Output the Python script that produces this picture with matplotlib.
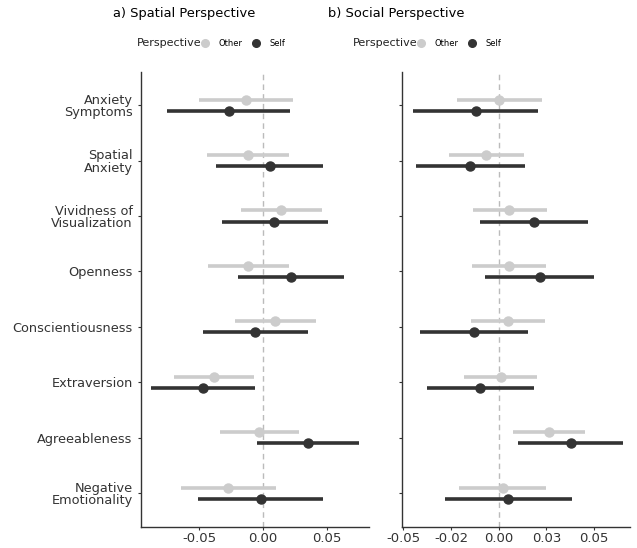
import numpy as np
import matplotlib.pyplot as plt
from matplotlib.lines import Line2D

traits = ["Anxiety\nSymptoms", "Spatial\nAnxiety", "Vividness of\nVisualization", "Openness",
          "Conscientiousness", "Extraversion", "Agreeableness", "Negative\nEmotionality"]

# spatial perspective: estimate, lower, upper
sp_other = [-0.0133, -0.012, 0.0144, -0.0118, 0.0094, -0.0382, -0.0029, -0.0272]
sp_other_lo = [-0.050, -0.044, -0.0173, -0.0434, -0.0222, -0.0696, -0.0338, -0.0646]
sp_other_hi = [0.0238, 0.0204, 0.0466, 0.0201, 0.0414, -0.0068, 0.028, 0.0104]
sp_self = [-0.0269, 0.0055, 0.0089, 0.0222, -0.006, -0.0471, 0.0356, -0.0018]
sp_self_lo = [-0.0751, -0.0366, -0.0322, -0.0194, -0.0473, -0.0879, -0.0049, -0.0508]
sp_self_hi = [0.0212, 0.0473, 0.0508, 0.0638, 0.0356, -0.006, 0.0756, 0.0473]

# social perspective
so_other = [0.0004, -0.0068, 0.0056, 0.0056, 0.0047, 0.0013, 0.0264, 0.0021]
so_other_lo = [-0.0218, -0.0262, -0.0136, -0.0138, -0.0147, -0.018, 0.0076, -0.0208]
so_other_hi = [0.0229, 0.0131, 0.0252, 0.025, 0.0241, 0.0203, 0.0451, 0.0249]
so_self = [-0.0121, -0.0148, 0.0184, 0.0215, -0.0127, -0.0098, 0.0378, 0.0051]
so_self_lo = [-0.0449, -0.0435, -0.01, -0.007, -0.0411, -0.0375, 0.0103, -0.0283]
so_self_hi = [0.0207, 0.014, 0.0467, 0.0497, 0.0154, 0.0184, 0.0652, 0.0385]

sp_ticks = [-0.05, 0.0, 0.05]
sp_ticklabels = ["-0.05", "0.00", "0.05"]
so_ticks = [-0.05, -0.025, 0.0, 0.025, 0.05]
so_ticklabels = ["-0.05", "-0.02", "0.00", "0.03", "0.05"]

c_other = "#cccccc"
c_self = "#333333"
dodge = 0.1

fig = plt.figure(figsize=(6.37, 5.48), dpi=100)
ax1 = fig.add_axes([0.2214, 0.039, 0.358, 0.830])
ax2 = fig.add_axes([0.6316, 0.039, 0.358, 0.830])

n = len(traits)
ypos = np.arange(n)[::-1]  # first trait at top


def draw(ax, oth, oth_lo, oth_hi, slf, slf_lo, slf_hi):
    ax.axvline(0, color="#bbbbbb", lw=1, ls=(0, (4, 3)), zorder=1)
    ax.hlines(ypos + dodge, oth_lo, oth_hi, color=c_other, lw=2.6, zorder=2)
    ax.plot(oth, ypos + dodge, "o", color=c_other, ms=6.5, zorder=3)
    ax.hlines(ypos - dodge, slf_lo, slf_hi, color=c_self, lw=2.6, zorder=2)
    ax.plot(slf, ypos - dodge, "o", color=c_self, ms=6.5, zorder=3)
    ax.set_ylim(-0.6, n - 1 + 0.6)
    ax.set_yticks(ypos)
    for s in ["top", "right"]:
        ax.spines[s].set_visible(False)
    for s in ["left", "bottom"]:
        ax.spines[s].set_color("#333333")
        ax.spines[s].set_linewidth(1.0)
    ax.tick_params(axis="both", length=2.5, color="#333333", labelsize=9.5, labelcolor="#333333")
    ax.tick_params(axis="x", pad=1.5)


draw(ax1, sp_other, sp_other_lo, sp_other_hi, sp_self, sp_self_lo, sp_self_hi)
ax1.set_xlim(-0.0958, 0.0832)
ax1.set_xticks(sp_ticks)
ax1.set_xticklabels(sp_ticklabels)
ax1.set_yticklabels(traits, fontsize=9.3, linespacing=0.95)

draw(ax2, so_other, so_other_lo, so_other_hi, so_self, so_self_lo, so_self_hi)
ax2.set_xlim(-0.0505, 0.069)
ax2.set_xticks(so_ticks)
ax2.set_xticklabels(so_ticklabels)
ax2.set_yticklabels([""] * n)

fig.text(184 / 637, 1 - 13 / 548, "a) Spatial Perspective", ha="center", va="center", fontsize=9.4)
fig.text(396 / 637, 1 - 13 / 548, "b) Social Perspective", ha="center", va="center", fontsize=9.4)

handles = [Line2D([], [], ls="", marker="o", color=c_other, ms=5.5),
           Line2D([], [], ls="", marker="o", color=c_self, ms=5.5)]
for x_title, x_leg in [(137, 201), (353, 417)]:
    fig.text(x_title / 637, 1 - 43 / 548, "Perspective", ha="left", va="center", fontsize=8, color="#222222")
    fig.legend(handles, ["Other", "Self"], ncol=2, loc="center left",
               bbox_to_anchor=(x_leg / 637, 1 - 43 / 548), frameon=False, fontsize=6,
               handletextpad=1.05, columnspacing=1.2, handlelength=1.0, borderaxespad=0, borderpad=0)

fig.savefig("out.png", dpi=100)
